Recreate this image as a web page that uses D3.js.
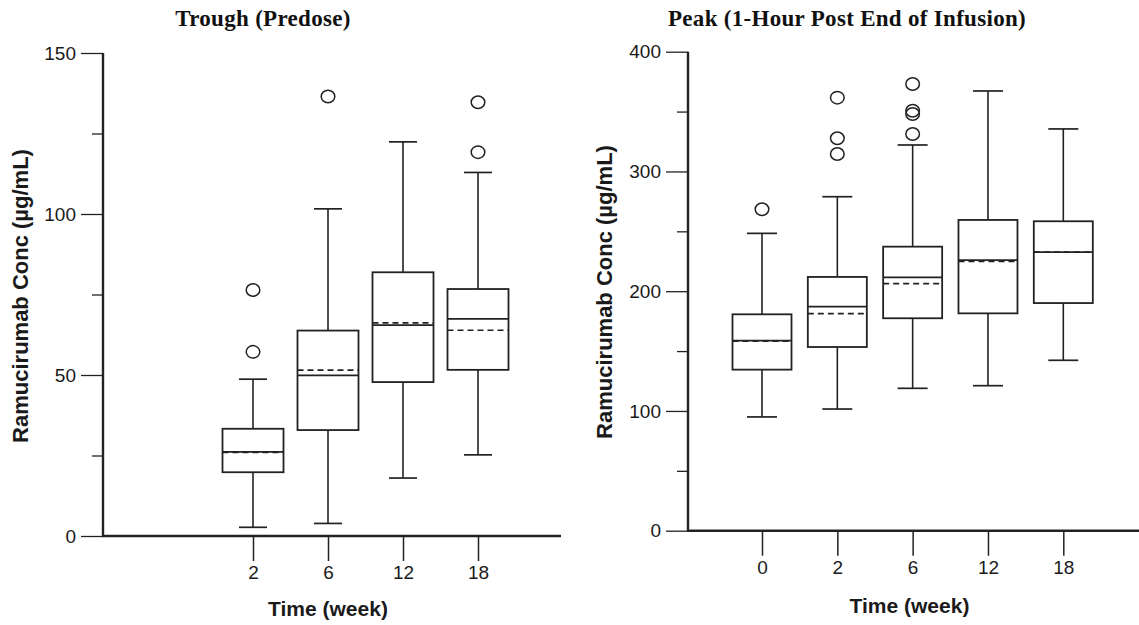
<!DOCTYPE html>
<html>
<head>
<meta charset="utf-8">
<script src="https://cdn.jsdelivr.net/npm/d3@7"></script>
<style>
  html, body { margin: 0; padding: 0; background: #fff; }
  svg { display: block; }
</style>
</head>
<body>
<svg id="chart" width="1139" height="625"></svg>
<script>
// ---------- DATA ----------
const panelTitles = ["Trough (Predose)", "Peak (1-Hour Post End of Infusion)"];
const yAxisTitle = "Ramucirumab Conc (µg/mL)";
const xAxisTitle = "Time (week)";
const allWeeks = ["0", "2", "6", "12", "18"];

// Trough (Predose)
const troughWeeks   = ["2", "6", "12", "18"];
const troughWhiskLo = [2.7, 3.9, 18.0, 25.2];
const troughQ1      = [19.8, 32.9, 47.8, 51.6];
const troughMedian  = [26.1, 49.9, 65.5, 67.4];
const troughMean    = [26.0, 51.5, 66.2, 63.9];
const troughQ3      = [33.3, 63.8, 81.9, 76.7];
const troughWhiskHi = [48.7, 101.6, 122.4, 112.9];
const troughOutliers = [[57.2, 76.4], [136.5], [], [119.2, 134.7]];
const troughMajorTicks = [0, 50, 100, 150];
const troughMinorTicks = [25, 75, 125];

// Peak (1-Hour Post End of Infusion)
const peakWeeks   = ["0", "2", "6", "12", "18"];
const peakWhiskLo = [95.0, 101.6, 118.9, 121.1, 142.3];
const peakQ1      = [134.5, 153.4, 177.4, 181.5, 190.1];
const peakMedian  = [158.7, 187.1, 211.6, 226.0, 232.7];
const peakMean    = [158.2, 181.2, 206.3, 224.8, 232.7];
const peakQ3      = [180.7, 211.9, 237.2, 259.5, 258.4];
const peakWhiskHi = [248.3, 278.9, 322.1, 367.2, 335.5];
const peakOutliers = [[268.4], [314.6, 327.7, 361.6], [331.3, 348.0, 350.7, 373.0], [], []];
const peakMajorTicks = [0, 100, 200, 300, 400];
const peakMinorTicks = [50, 150, 250, 350];

// ---------- DRAW ----------
const svg = d3.select("#chart");
const ink = "#222";
const sans = "'Liberation Sans', Arial, Helvetica, sans-serif";
const serif = "'Liberation Serif', 'Times New Roman', serif";

function buildRows(weeks, lo, q1, med, mean, q3, hi, outs) {
  return weeks.map((w, i) => ({ week: w, lo: lo[i], q1: q1[i], med: med[i], mean: mean[i], q3: q3[i], hi: hi[i], outs: outs[i] }));
}

function drawPanel(cfg) {
  const g = svg.append("g");
  const x = d3.scalePoint().domain(allWeeks).range(cfg.xRange);
  const y = d3.scaleLinear().domain(cfg.yDomain).range([cfg.yBottom, cfg.yTop]);

  // title
  g.append("text")
    .attr("x", cfg.titleX).attr("y", 26)
    .attr("text-anchor", "middle")
    .style("font-family", serif).style("font-weight", "bold")
    .style("font-size", "23px").style("letter-spacing", "0.3px")
    .attr("fill", "#111")
    .text(cfg.title);

  // minor y ticks
  g.append("g")
    .attr("transform", `translate(${cfg.axisX},0)`)
    .call(d3.axisLeft(y).tickValues(cfg.minor).tickSize(11).tickFormat(""))
    .call(a => a.select(".domain").remove())
    .call(a => a.selectAll("line").attr("stroke", ink).attr("stroke-width", 1.3));

  // major y ticks
  g.append("g")
    .attr("transform", `translate(${cfg.axisX},0)`)
    .call(d3.axisLeft(y).tickValues(cfg.major).tickSize(22).tickPadding(5).tickFormat(d3.format("d")))
    .call(a => a.select(".domain").remove())
    .call(a => a.selectAll("line").attr("stroke", ink).attr("stroke-width", 1.3))
    .call(a => a.selectAll("text").attr("fill", "#1a1a1a").style("font-family", sans).style("font-size", "19px"));

  // x axis ticks
  g.append("g")
    .attr("transform", `translate(0,${cfg.yBottom})`)
    .call(d3.axisBottom(x).tickValues(cfg.weeks).tickSize(25).tickPadding(5))
    .call(a => a.select(".domain").remove())
    .call(a => a.selectAll("line").attr("stroke", ink).attr("stroke-width", 1.5))
    .call(a => a.selectAll("text").attr("fill", "#1a1a1a").style("font-family", sans).style("font-size", "19px"));

  // axis lines
  g.append("line")
    .attr("x1", cfg.axisX).attr("x2", cfg.axisX)
    .attr("y1", y(cfg.yDomain[1])).attr("y2", cfg.yBottom + 1)
    .attr("stroke", ink).attr("stroke-width", 2.4);
  g.append("line")
    .attr("x1", cfg.axisX - 1).attr("x2", cfg.xAxisEnd)
    .attr("y1", cfg.yBottom).attr("y2", cfg.yBottom)
    .attr("stroke", ink).attr("stroke-width", 2.4);

  // axis titles
  g.append("text")
    .attr("transform", `translate(${cfg.yTitleX},${cfg.yTitleY}) rotate(-90)`)
    .attr("text-anchor", "middle")
    .style("font-family", sans).style("font-weight", "bold").style("font-size", "22px")
    .attr("fill", "#1a1a1a")
    .text(yAxisTitle);
  g.append("text")
    .attr("x", (cfg.axisX + cfg.xAxisEnd) / 2 - 4).attr("y", cfg.xTitleY)
    .attr("text-anchor", "middle")
    .style("font-family", sans).style("font-weight", "bold").style("font-size", "21px")
    .attr("fill", "#1a1a1a")
    .text(xAxisTitle);

  // boxes
  const boxW = cfg.boxW, capW = cfg.capW;
  const bx = g.selectAll("g.box").data(cfg.rows).join("g").attr("class", "box")
    .attr("transform", d => `translate(${x(d.week)},0)`);

  bx.append("line").attr("x1", 0).attr("x2", 0)
    .attr("y1", d => y(d.q3)).attr("y2", d => y(d.hi))
    .attr("stroke", ink).attr("stroke-width", 1.6);
  bx.append("line").attr("x1", 0).attr("x2", 0)
    .attr("y1", d => y(d.q1)).attr("y2", d => y(d.lo))
    .attr("stroke", ink).attr("stroke-width", 1.6);
  bx.append("line").attr("x1", -capW / 2).attr("x2", capW / 2)
    .attr("y1", d => y(d.hi)).attr("y2", d => y(d.hi))
    .attr("stroke", ink).attr("stroke-width", 1.7);
  bx.append("line").attr("x1", -capW / 2).attr("x2", capW / 2)
    .attr("y1", d => y(d.lo)).attr("y2", d => y(d.lo))
    .attr("stroke", ink).attr("stroke-width", 1.7);
  bx.append("rect")
    .attr("x", -boxW / 2).attr("width", boxW)
    .attr("y", d => y(d.q3)).attr("height", d => y(d.q1) - y(d.q3))
    .attr("fill", "#fff").attr("stroke", ink).attr("stroke-width", 1.8);
  bx.append("line").attr("x1", -boxW / 2).attr("x2", boxW / 2)
    .attr("y1", d => y(d.mean)).attr("y2", d => y(d.mean))
    .attr("stroke", ink).attr("stroke-width", 1.7).attr("stroke-dasharray", "6,4");
  bx.append("line").attr("x1", -boxW / 2).attr("x2", boxW / 2)
    .attr("y1", d => y(d.med)).attr("y2", d => y(d.med))
    .attr("stroke", ink).attr("stroke-width", 1.7);
  bx.selectAll("ellipse").data(d => d.outs).join("ellipse")
    .attr("cx", 0).attr("cy", v => y(v))
    .attr("rx", 6.8).attr("ry", 6.2)
    .attr("fill", "none").attr("stroke", ink).attr("stroke-width", 1.5);
}

drawPanel({
  title: panelTitles[0], titleX: 263,
  rows: buildRows(troughWeeks, troughWhiskLo, troughQ1, troughMedian, troughMean, troughQ3, troughWhiskHi, troughOutliers),
  weeks: troughWeeks,
  xRange: [178, 478], axisX: 103, xAxisEnd: 561,
  yDomain: [0, 150], yBottom: 536, yTop: 53,
  major: troughMajorTicks, minor: troughMinorTicks,
  boxW: 61, capW: 28,
  yTitleX: 28, yTitleY: 296, xTitleY: 616
});

drawPanel({
  title: panelTitles[1], titleX: 847,
  rows: buildRows(peakWeeks, peakWhiskLo, peakQ1, peakMedian, peakMean, peakQ3, peakWhiskHi, peakOutliers),
  weeks: peakWeeks,
  xRange: [762, 1063.3], axisX: 688, xAxisEnd: 1139,
  yDomain: [0, 400], yBottom: 530.7, yTop: 51.7,
  major: peakMajorTicks, minor: peakMinorTicks,
  boxW: 59, capW: 30,
  yTitleX: 612, yTitleY: 292, xTitleY: 613
});
</script>
</body>
</html>
